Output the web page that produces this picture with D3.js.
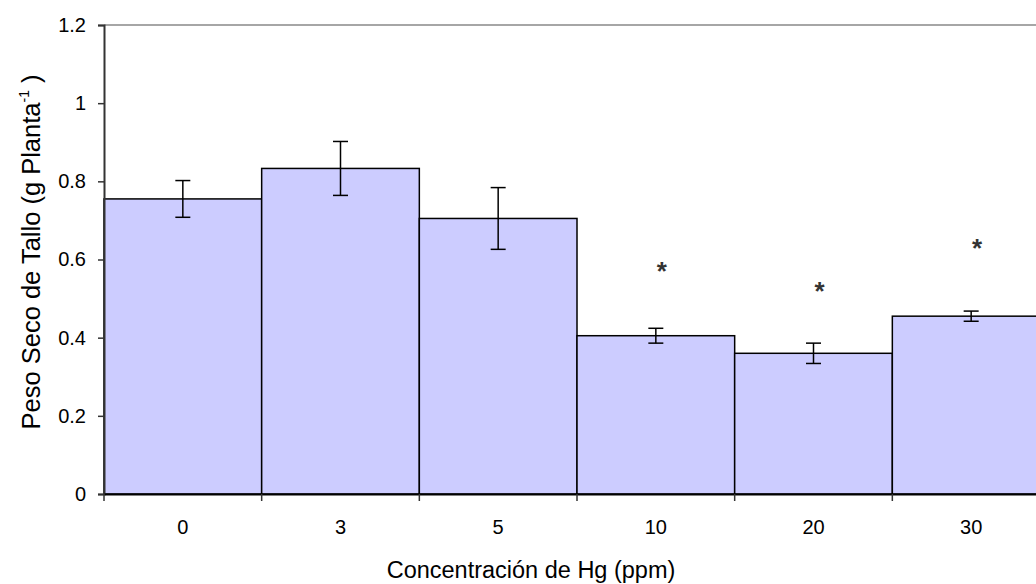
<!DOCTYPE html>
<html><head><meta charset="utf-8">
<script src="https://cdn.jsdelivr.net/npm/d3@7"></script>
<style>body{margin:0;background:#fff}svg{display:block}text{font-family:"Liberation Sans",Arial,sans-serif}</style>
</head><body><div id="chart"></div>
<script>
const categories = ["0","3","5","10","20","30"];
const values = [0.755, 0.833, 0.705, 0.405, 0.360, 0.455];
const errors = [0.047, 0.069, 0.079, 0.019, 0.026, 0.013];
const starCategories = ["10","20","30"];
const starValues = [0.576, 0.525, 0.634];
const yTicks = [0, 0.2, 0.4, 0.6, 0.8, 1, 1.2];

const W = 1036, H = 584;
const margin = {left:104, top:25, right:-14, bottom:90};
const svg = d3.select("#chart").append("svg").attr("width",W).attr("height",H);
const x = d3.scaleBand().domain(categories).range([margin.left, W - margin.right]).padding(0);
const y = d3.scaleLinear().domain([0,1.2]).range([H - margin.bottom, margin.top]);

// top border line
svg.append("line").attr("x1",margin.left).attr("x2",W - margin.right)
  .attr("y1",y(1.2)).attr("y2",y(1.2)).attr("stroke","#888").attr("stroke-width",1.5);

// bars
svg.append("g").selectAll("rect").data(values).join("rect")
  .attr("x",(d,i)=>x(categories[i])).attr("width",x.bandwidth())
  .attr("y",d=>y(d)).attr("height",d=>y(0)-y(d))
  .attr("fill","#CCCCFF").attr("stroke","#000").attr("stroke-width",1.5);

// error bars
const eb = svg.append("g").attr("stroke","#000").attr("stroke-width",1.5);
values.forEach((v,i)=>{
  const cx = x(categories[i]) + x.bandwidth()/2;
  eb.append("line").attr("x1",cx).attr("x2",cx).attr("y1",y(v+errors[i])).attr("y2",y(v-errors[i]));
  eb.append("line").attr("x1",cx-7.5).attr("x2",cx+7.5).attr("y1",y(v+errors[i])).attr("y2",y(v+errors[i]));
  eb.append("line").attr("x1",cx-7.5).attr("x2",cx+7.5).attr("y1",y(v-errors[i])).attr("y2",y(v-errors[i]));
});

// asterisks
svg.append("g").selectAll("text").data(starValues).join("text")
  .attr("x",(d,i)=>x(starCategories[i]) + x.bandwidth()/2 + 6)
  .attr("y",d=>y(d)+11).attr("text-anchor","middle")
  .attr("font-size",26).attr("font-weight","bold").attr("fill","#333").text("*");

// y axis
const yAxis = svg.append("g").attr("transform",`translate(${margin.left},0)`)
  .call(d3.axisLeft(y).tickValues(yTicks).tickFormat(d=>String(d)).tickSize(6).tickPadding(12));
yAxis.select(".domain").attr("stroke","#333").attr("stroke-width",2);
yAxis.selectAll(".tick line").attr("stroke","#333").attr("stroke-width",1.5);
yAxis.selectAll("text").attr("font-size",20).attr("fill","#000").attr("font-family","Liberation Sans, Arial, sans-serif");

// x axis
const xAxis = svg.append("g").attr("transform",`translate(0,${y(0)})`)
  .call(d3.axisBottom(x).tickSize(0).tickPadding(26));
xAxis.select(".domain").attr("stroke","#000").attr("stroke-width",2);
xAxis.selectAll("text").attr("font-size",20).attr("fill","#000").attr("font-family","Liberation Sans, Arial, sans-serif");
// boundary ticks
const bounds = categories.map(c=>x(c));
svg.append("g").selectAll("line").data(bounds).join("line")
  .attr("x1",d=>d).attr("x2",d=>d).attr("y1",y(0)).attr("y2",y(0)+7)
  .attr("stroke","#333").attr("stroke-width",1.5);

// titles
svg.append("text").attr("x",531).attr("y",578).attr("text-anchor","middle")
  .attr("font-size",23.5).attr("fill","#000").text("Concentración de Hg (ppm)");
const yt = svg.append("text").attr("transform",`translate(40,252) rotate(-90)`)
  .attr("text-anchor","middle").attr("font-size",25.5).attr("fill","#000");
yt.append("tspan").text("Peso Seco de Tallo (g Planta");
yt.append("tspan").attr("font-size",14).attr("dy",-11).text("-1");
yt.append("tspan").attr("dy",11).text(" )");
</script></body></html>
